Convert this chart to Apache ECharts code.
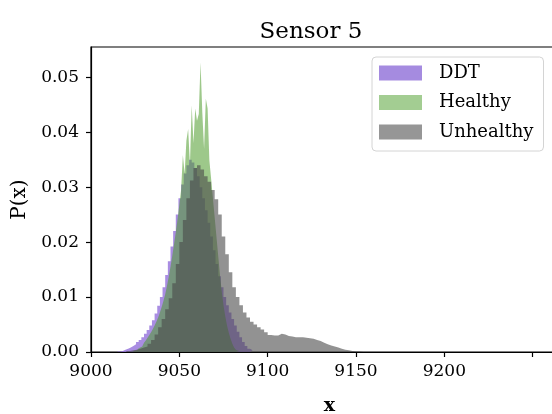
<!DOCTYPE html>
<html><head><meta charset="utf-8">
<script src="https://cdn.jsdelivr.net/npm/echarts/dist/echarts.min.js"></script>
<style>html,body{margin:0;padding:0;background:#fff;}#c{width:552px;height:414px;}</style>
</head><body><div id="c"></div>
<script>
const chartTitle = 'Sensor 5';
const seriesNames = ['DDT', 'Healthy', 'Unhealthy'];
const xTicks = [9000, 9050, 9100, 9150, 9200, 9250];
const yTicks = [0, 0.01, 0.02, 0.03, 0.04, 0.05];

// DDT histogram: first bin edge, bin width, densities
const ddtStart = 9015, ddtBinWidth = 1.5;
const ddtValues = [
  0.0001, 0.0002, 0.0004, 0.0006, 0.0008, 0.0011, 0.0014, 0.0018, 0.0022, 0.0027,
  0.0033, 0.0040, 0.0048, 0.0058, 0.0070, 0.0084, 0.0100, 0.0118, 0.0140, 0.0165,
  0.0192, 0.0220, 0.0250, 0.0280, 0.0305, 0.0325, 0.0340, 0.0350, 0.0345, 0.0335,
  0.0320, 0.0300, 0.0280, 0.0258, 0.0235, 0.0210, 0.0185, 0.0160, 0.0138, 0.0118,
  0.0100, 0.0085, 0.0072, 0.0060, 0.0048, 0.0037, 0.0027, 0.0018, 0.0011, 0.0006,
  0.0003
];

// Healthy histogram
const healthyStart = 9024, healthyBinWidth = 1;
const healthyValues = [
  0.0002, 0.0003, 0.0005, 0.0007, 0.0010, 0.0013, 0.0017, 0.0021, 0.0026, 0.0031,
  0.0036, 0.0042, 0.0048, 0.0055, 0.0063, 0.0072, 0.0082, 0.0093, 0.0105, 0.0120,
  0.0137, 0.0155, 0.0175, 0.0196, 0.0218, 0.0242, 0.0268, 0.0295, 0.0358, 0.0325,
  0.0385, 0.0406, 0.0340, 0.0449, 0.0380, 0.0443, 0.0421, 0.0433, 0.0527, 0.0436,
  0.0370, 0.0461, 0.0443, 0.0349, 0.0315, 0.0280, 0.0245, 0.0210, 0.0175, 0.0140,
  0.0110, 0.0085, 0.0065, 0.0048, 0.0035, 0.0024, 0.0015, 0.0008, 0.0004, 0.0002
];

// Unhealthy histogram
const unhealthyStart = 9020, unhealthyBinWidth = 2;
const unhealthyValues = [
  0.0002, 0.0003, 0.0004, 0.0006, 0.0008, 0.0010, 0.0015, 0.0022, 0.0032, 0.0045,
  0.0060, 0.0078, 0.0098, 0.0125, 0.0160, 0.0200, 0.0240, 0.0280, 0.0312, 0.0335,
  0.0340, 0.0332, 0.0320, 0.0310, 0.0295, 0.0278, 0.0250, 0.0210, 0.0178, 0.0145,
  0.0118, 0.0100, 0.0085, 0.0072, 0.0063, 0.0055, 0.0050, 0.0045, 0.0041, 0.0036,
  0.0031, 0.0030, 0.0030, 0.0033, 0.0032, 0.0029, 0.0028, 0.0027, 0.0027, 0.0027,
  0.0026, 0.0025, 0.0024, 0.0022, 0.0020, 0.0017, 0.0014, 0.0012, 0.0010, 0.0008,
  0.0006, 0.0004, 0.0003, 0.0002, 0.0001, 0.0001, 0.00005
];

function histPoints(start, w, vals) {
  const pts = vals.map((v, i) => [start + i * w, v]);
  pts.push([start + vals.length * w, vals[vals.length - 1]]);
  return pts;
}

const FONT = 'DejaVu Serif';
const fills = [
  { color: '#9370db', opacity: 0.8, swatch: '#a58be0' },
  { color: '#4c9a2a', opacity: 0.55, swatch: '#a3cd92' },
  { color: '#4a4a4a', opacity: 0.6, swatch: '#969696' }
];
const hists = [
  histPoints(ddtStart, ddtBinWidth, ddtValues),
  histPoints(healthyStart, healthyBinWidth, healthyValues),
  histPoints(unhealthyStart, unhealthyBinWidth, unhealthyValues)
];

const chart = echarts.init(document.getElementById('c'), null, { renderer: 'canvas' });
chart.setOption({
  animation: false,
  backgroundColor: '#fff',
  title: {
    text: chartTitle, left: 306, top: 16, textAlign: 'center',
    textStyle: { fontFamily: FONT, fontWeight: 'normal', fontSize: 23, color: '#000' }
  },
  legend: {
    orient: 'vertical', left: 372, top: 57,
    padding: [7, 10, 10, 7],
    itemWidth: 43, itemHeight: 15, itemGap: 11.5,
    icon: 'rect',
    backgroundColor: 'rgba(255,255,255,0.8)',
    borderColor: '#d4d4d4', borderWidth: 1, borderRadius: 4,
    textStyle: { fontFamily: FONT, fontSize: 18, color: '#000', lineHeight: 18, padding: [0, 0, 0, 12] },
    data: seriesNames.map((n, i) => ({ name: n, itemStyle: { color: fills[i].swatch } }))
  },
  grid: {
    left: 91, width: 477, top: 47, height: 305,
    outerBoundsMode: 'none', containLabel: false,
    show: true, borderColor: '#000', borderWidth: 1.2
  },
  xAxis: {
    type: 'value', min: 9000, max: 9270, interval: 50,
    name: 'x', nameLocation: 'middle', nameGap: 45,
    nameTextStyle: { fontFamily: FONT, fontSize: 19, fontWeight: 'bold', color: '#000' },
    axisLine: { lineStyle: { color: '#000', width: 1.2 } },
    axisTick: { show: true, inside: false, length: 5, customValues: xTicks, lineStyle: { color: '#000', width: 1.2 } },
    axisLabel: {
      fontFamily: FONT, fontSize: 17, color: '#000', margin: 11, customValues: xTicks.slice(0, 5),
      formatter: v => String(v)
    },
    splitLine: { show: false }
  },
  yAxis: {
    type: 'value', min: 0, max: 0.0555, interval: 0.01,
    name: 'P(x)', nameLocation: 'middle', nameGap: 56,
    nameTextStyle: { fontFamily: FONT, fontSize: 20, color: '#000' },
    axisLine: { show: true, lineStyle: { color: '#000', width: 1.2 } },
    axisTick: { show: true, inside: false, length: 5, customValues: yTicks, lineStyle: { color: '#000', width: 1.2 } },
    axisLabel: {
      fontFamily: FONT, fontSize: 17, color: '#000', margin: 12, customValues: yTicks,
      formatter: v => Number(v).toFixed(2)
    },
    splitLine: { show: false }
  },
  series: seriesNames.map((n, i) => ({
    name: n, type: 'line', step: 'end', data: hists[i],
    showSymbol: false, symbol: 'none', silent: true,
    lineStyle: { width: 0, opacity: 0 },
    itemStyle: { color: fills[i].swatch },
    areaStyle: { color: fills[i].color, opacity: fills[i].opacity, origin: 'start' },
    z: 2 + i
  }))
});
</script>
</body></html>
